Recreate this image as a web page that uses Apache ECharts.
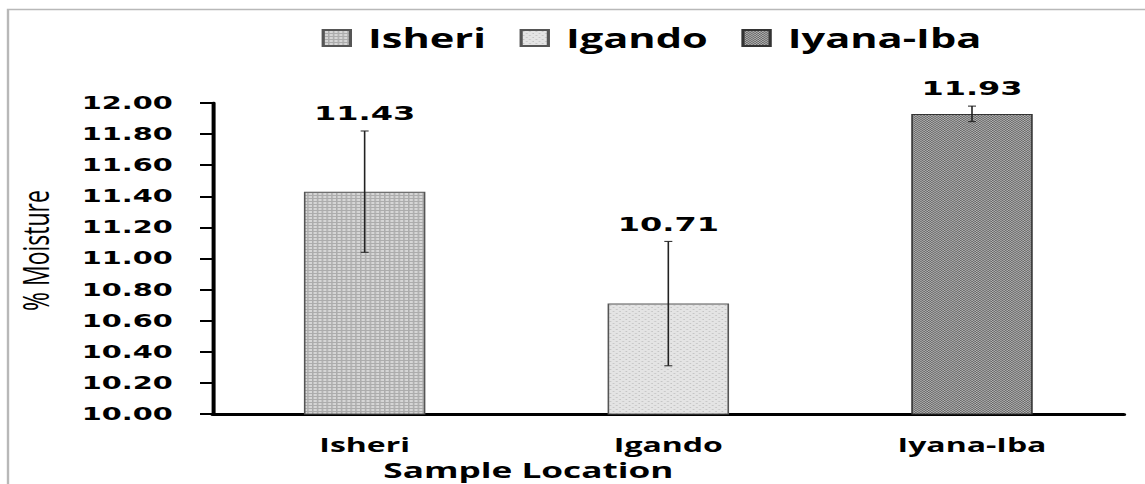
<!DOCTYPE html>
<html lang="en">
<head>
<meta charset="UTF-8">
<title>% Moisture by sample location</title>
<script src="https://cdn.jsdelivr.net/npm/echarts@6/dist/echarts.min.js"></script>
<style>
    html, body {margin: 0; padding: 0; background: #fff; overflow: hidden;}
    /* the source picture is stretched sideways, so the chart is drawn narrow and widened */
    #main {position: absolute; left: 0; top: 0; width: 715.625px; height: 484px; transform: scaleX(1.6); transform-origin: 0 0;}
</style>
</head>
<body>
<div id="main"></div>
<script>
    // data
    var categories = ['Isheri', 'Igando', 'Iyana-Iba'];
    var moisture = [11.43, 10.71, 11.93];
    var errors = [0.39, 0.40, 0.05];
    var yMin = 10, yMax = 12, yStep = 0.2;

    // little fill textures like the office-chart patterns
    function makePattern(size, bg, fg, cells) {
        var c = document.createElement('canvas');
        c.width = size; c.height = size;
        var ctx = c.getContext('2d');
        ctx.fillStyle = bg;
        ctx.fillRect(0, 0, size, size);
        ctx.fillStyle = fg;
        for (var i = 0; i < cells.length; i++) {
            ctx.fillRect(cells[i][0], cells[i][1], 1, 1);
        }
        return c;
    }
    var fills = [
        makePattern(3, '#d6d6d6', '#acacac', [[0, 0], [1, 0], [2, 0], [0, 1], [0, 2]]),
        makePattern(4, '#e4e4e4', '#c2c2c2', [[1, 1], [3, 3]]),
        makePattern(2, '#b4b4b4', '#636363', [[0, 0], [1, 1]])
    ];
    var borders = ['#555', '#555', '#333'];

    var chart = echarts.init(document.getElementById('main'), null, {renderer: 'svg'});

    var series = categories.map(function (name, i) {
        var d = categories.map(function (c, j) { return j === i ? moisture[i] : '-'; });
        return {
            name: name,
            type: 'bar',
            stack: 'one',
            barWidth: '40%',
            data: d,
            itemStyle: {
                color: {image: fills[i], repeat: 'repeat'},
                borderColor: borders[i],
                borderWidth: 1
            }
        };
    });

    // error bars with the mean written above them
    series.push({
        type: 'custom',
        z: 5,
        encode: {x: 0, y: [1, 2]},
        data: categories.map(function (c, i) {
            return [i, moisture[i] + errors[i], moisture[i] - errors[i], moisture[i]];
        }),
        renderItem: function (params, api) {
            var hi = api.coord([api.value(0), api.value(1)]);
            var lo = api.coord([api.value(0), api.value(2)]);
            var x = hi[0], hw = 2.5;
            var st = {stroke: '#222', lineWidth: 1};
            return {
                type: 'group',
                children: [
                    {type: 'line', shape: {x1: x, y1: hi[1], x2: x, y2: lo[1]}, style: st},
                    {type: 'line', shape: {x1: x - hw, y1: hi[1], x2: x + hw, y2: hi[1]}, style: st},
                    {type: 'line', shape: {x1: x - hw, y1: lo[1], x2: x + hw, y2: lo[1]}, style: st},
                    {
                        type: 'text',
                        x: x,
                        y: hi[1] - 8,
                        style: {
                            text: api.value(3).toFixed(2),
                            fill: '#000',
                            fontFamily: 'DejaVu Sans',
                            fontWeight: 'bold',
                            fontSize: 20,
                            align: 'center',
                            verticalAlign: 'bottom',
                            textAlign: 'center',
                            textVerticalAlign: 'bottom'
                        }
                    }
                ]
            };
        }
    });

    var option = {
        animation: false,
        backgroundColor: '#fff',
        graphic: [{
            type: 'rect',
            shape: {x: 5, y: 9.5, width: 900, height: 600},
            style: {fill: 'none', stroke: '#b8b8b8', lineWidth: 1.5},
            silent: true
        }],
        legend: {
            data: categories,
            left: 196,
            top: 20,
            icon: 'rect',
            itemWidth: 17,
            itemHeight: 16,
            itemGap: 21,
            textStyle: {
                color: '#000',
                fontFamily: 'Open Sans',
                fontWeight: 'bold',
                fontSize: 26,
                padding: [0, 0, 0, 6]
            }
        },
        grid: {left: 133, right: 13.6, top: 103, bottom: 70, containLabel: false, outerBoundsMode: 'none'},
        xAxis: {
            type: 'category',
            data: categories,
            name: 'Sample Location',
            nameLocation: 'middle',
            nameGap: 35,
            nameTextStyle: {
                color: '#000',
                fontFamily: 'Open Sans',
                fontWeight: 'bold',
                fontSize: 22,
                padding: [0, 175, 0, 0]
            },
            axisLine: {lineStyle: {color: '#000', width: 3}},
            axisTick: {length: 7, lineStyle: {color: '#000', width: 1.5}},
            axisLabel: {
                color: '#000',
                fontFamily: 'Open Sans',
                fontWeight: 'bold',
                fontSize: 20,
                margin: 20
            }
        },
        yAxis: {
            type: 'value',
            min: yMin,
            max: yMax,
            interval: yStep,
            name: '% Moisture',
            nameLocation: 'middle',
            nameRotate: 90,
            nameGap: 100,
            nameTextStyle: {
                color: '#000',
                fontFamily: 'Open Sans',
                fontSize: 23,
                padding: [0, 0, 0, 16]
            },
            axisLine: {show: true, lineStyle: {color: '#000', width: 2.5}},
            axisTick: {show: true, length: 8, lineStyle: {color: '#000', width: 2}},
            splitLine: {show: false},
            axisLabel: {
                color: '#000',
                fontFamily: 'DejaVu Sans',
                fontWeight: 'bold',
                fontSize: 18,
                margin: 25,
                formatter: function (v) { return v.toFixed(2); }
            }
        },
        series: series
    };

    chart.setOption(option);
</script>
</body>
</html>
